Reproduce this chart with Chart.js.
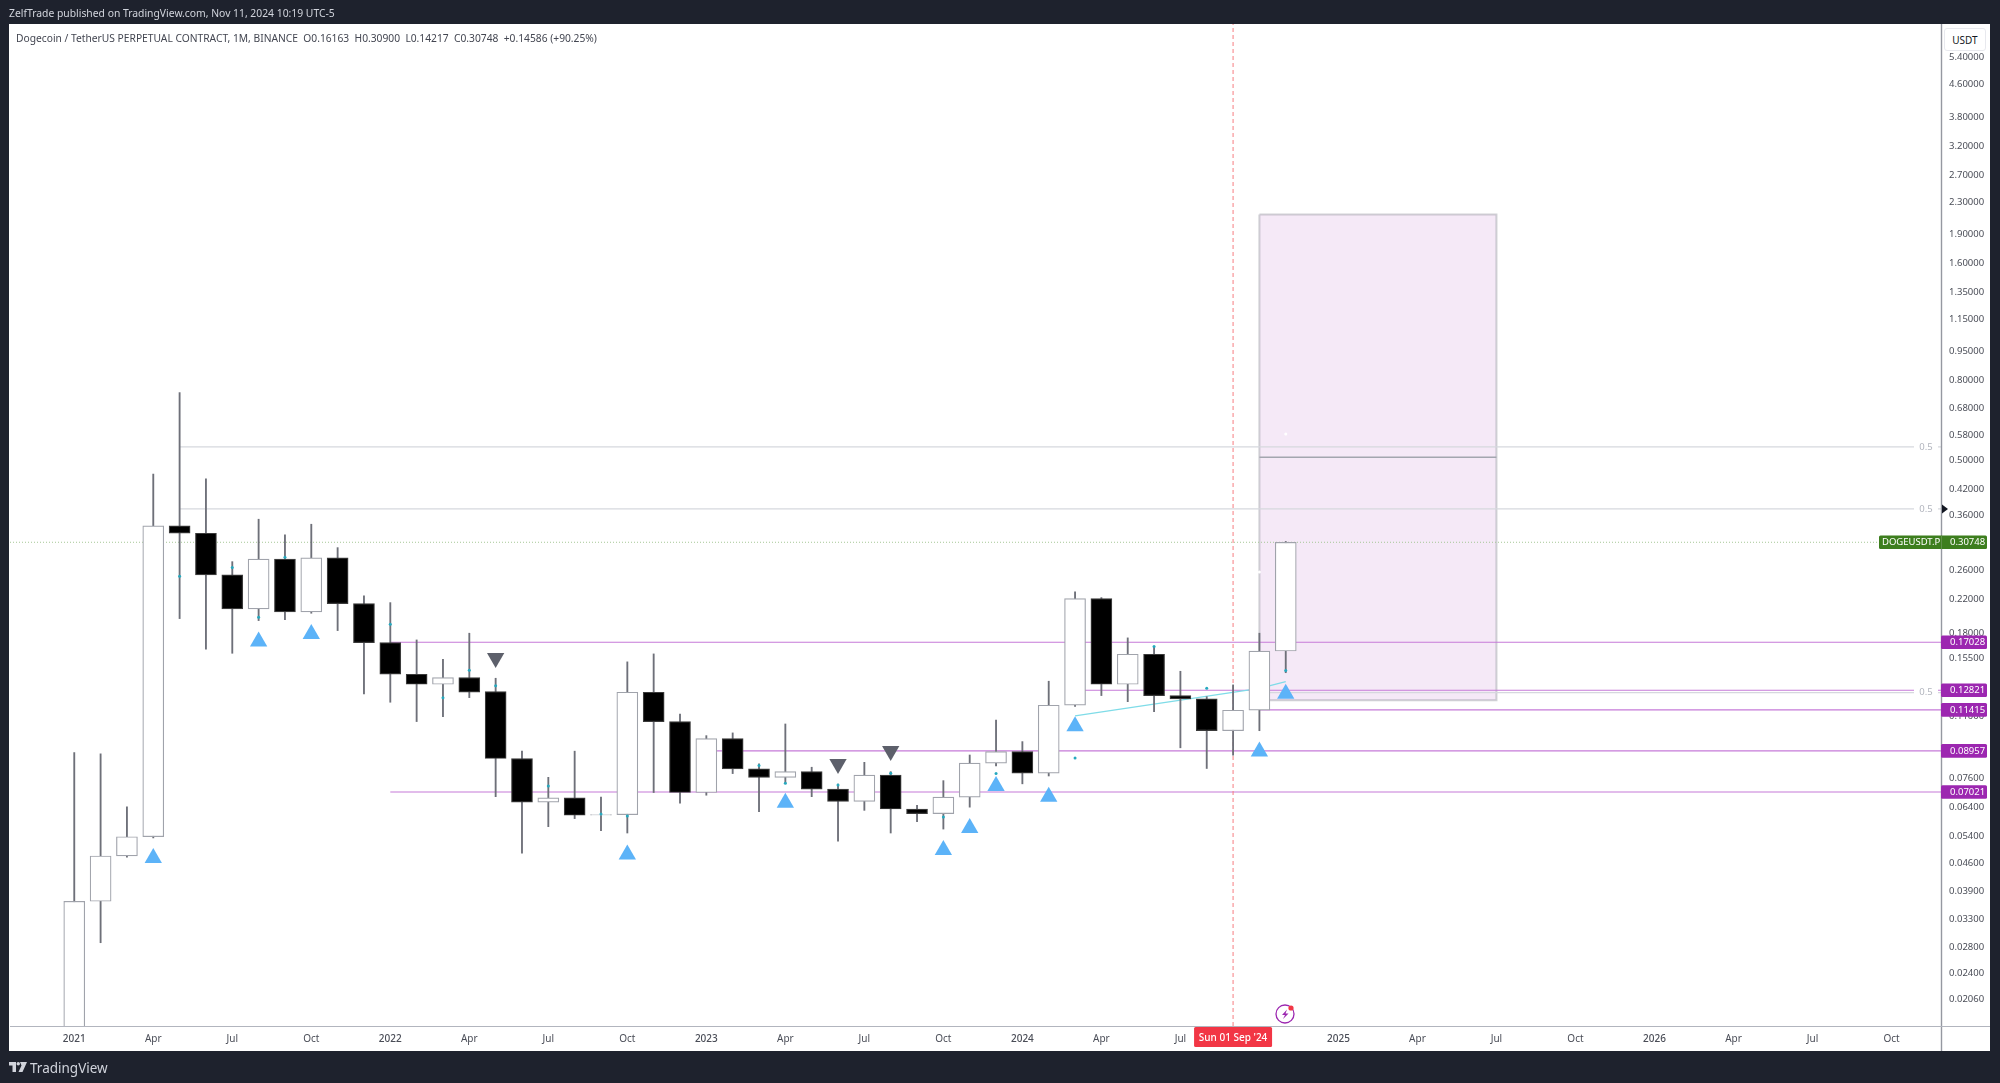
<!DOCTYPE html>
<html>
<head>
<meta charset="utf-8">
<title>DOGEUSDT.P monthly</title>
<script src="https://cdn.jsdelivr.net/npm/chart.js@4/dist/chart.umd.min.js"></script>
<style>
    html, body { margin: 0; padding: 0; background: #1e222d; width: 2000px; height: 1083px; overflow: hidden; }
    #panel { position: absolute; left: 9px; top: 24px; width: 1981px; height: 1027px; background: #fff; }
    #myChart { position: absolute; left: 0; top: 0; }
    .txt { position: absolute; white-space: pre; font-family: "Noto Sans", sans-serif; }
    #published { left: 9px; top: 6px; font-size: 10.35px; line-height: 14px; color: #d1d4dc; }
    #legend { left: 16px; top: 31px; font-size: 10.25px; line-height: 14px; color: #434651; }
    #usdt { left: 1944px; top: 28px; width: 42px; height: 23px; line-height: 23px; text-align: center; font-size: 10px; color: #131722; border: 1px solid #e8e9ee; border-radius: 3px; box-sizing: border-box; background: #fff; }
    #brand { left: 30px; top: 1059px; font-size: 13.5px; line-height: 18px; color: #d1d4dc; }
    #logo { position: absolute; left: 9px; top: 1062px; }
    #bolt { position: absolute; left: 1274px; top: 1003px; }
</style>
</head>
<body>
<div id="panel"></div>
<canvas id="myChart" width="2000" height="1083"></canvas>
<div class="txt" id="published">ZelfTrade published on TradingView.com, Nov 11, 2024 10:19 UTC-5</div>
<div class="txt" id="legend">Dogecoin / TetherUS PERPETUAL CONTRACT, 1M, BINANCE  O0.16163  H0.30900  L0.14217  C0.30748  +0.14586 (+90.25%)</div>
<div class="txt" id="usdt">USDT</div>
<svg id="logo" width="18" height="10" viewBox="0 0 36 20">
    <path d="M0 0h14v20H7V7H0z M22 0h14l-9 20h-8l6-13z" fill="#d1d4dc"/>
    <circle cx="18.5" cy="3.5" r="3.5" fill="#d1d4dc"/>
</svg>
<div class="txt" id="brand">TradingView</div>
<svg id="bolt" width="22" height="22" viewBox="0 0 22 22">
    <circle cx="11" cy="11" r="9" fill="none" stroke="#9c27b0" stroke-width="1.3"/>
    <path d="M13 6.5 L8 12 H11 L9 16 L14.5 10.5 H11.5 Z" fill="#9c27b0"/>
    <circle cx="17" cy="5" r="2.6" fill="#f23645"/>
</svg>
<script>
const months = [
    'Jan 2021', 'Feb 2021', 'Mar 2021', 'Apr 2021', 'May 2021', 'Jun 2021', 'Jul 2021', 'Aug 2021', 'Sep 2021', 'Oct 2021', 'Nov 2021', 'Dec 2021',
    'Jan 2022', 'Feb 2022', 'Mar 2022', 'Apr 2022', 'May 2022', 'Jun 2022', 'Jul 2022', 'Aug 2022', 'Sep 2022', 'Oct 2022', 'Nov 2022', 'Dec 2022',
    'Jan 2023', 'Feb 2023', 'Mar 2023', 'Apr 2023', 'May 2023', 'Jun 2023', 'Jul 2023', 'Aug 2023', 'Sep 2023', 'Oct 2023', 'Nov 2023', 'Dec 2023',
    'Jan 2024', 'Feb 2024', 'Mar 2024', 'Apr 2024', 'May 2024', 'Jun 2024', 'Jul 2024', 'Aug 2024', 'Sep 2024', 'Oct 2024', 'Nov 2024'
];
const opens = [
    0.0047, 0.0368, 0.0481, 0.0539, 0.3387, 0.3244, 0.2535, 0.2074, 0.2782, 0.2037, 0.2803, 0.2139,
    0.1699, 0.1409, 0.1328, 0.1381, 0.1271, 0.0856, 0.0661, 0.0678, 0.0612, 0.0614, 0.1267, 0.1065,
    0.0700, 0.0963, 0.0805, 0.0766, 0.0792, 0.0714, 0.0664, 0.0776, 0.0635, 0.0618, 0.0681, 0.0833,
    0.0892, 0.0785, 0.1173, 0.2204, 0.1328, 0.1586, 0.1242, 0.1218, 0.1009, 0.1139, 0.16163
];
const highs = [
    0.0887, 0.0880, 0.0643, 0.4599, 0.7451, 0.4473, 0.2742, 0.3524, 0.3212, 0.3421, 0.2979, 0.2239,
    0.2152, 0.1726, 0.1540, 0.1796, 0.1376, 0.0894, 0.0766, 0.0894, 0.0681, 0.1516, 0.1589, 0.1114,
    0.0980, 0.0996, 0.0829, 0.1050, 0.0813, 0.0736, 0.0837, 0.0792, 0.0649, 0.0751, 0.0874, 0.1074,
    0.0946, 0.1352, 0.2293, 0.2217, 0.1747, 0.1659, 0.1434, 0.1234, 0.1323, 0.1796, 0.30900
];
const lows = [
    0.0046, 0.0288, 0.0478, 0.0535, 0.1958, 0.1634, 0.1595, 0.1935, 0.1946, 0.2021, 0.1824, 0.1254,
    0.1194, 0.1065, 0.1097, 0.1227, 0.0683, 0.0489, 0.0572, 0.0600, 0.0559, 0.0551, 0.0700, 0.0657,
    0.0689, 0.0783, 0.0625, 0.0740, 0.0683, 0.0525, 0.0630, 0.0551, 0.0589, 0.0564, 0.0642, 0.0819,
    0.0737, 0.0772, 0.1164, 0.1242, 0.1198, 0.1130, 0.0912, 0.0807, 0.0873, 0.1009, 0.14217
];
const closes = [
    0.0368, 0.0481, 0.0539, 0.3387, 0.3244, 0.2535, 0.2074, 0.2782, 0.2037, 0.2803, 0.2139, 0.1699,
    0.1409, 0.1328, 0.1381, 0.1267, 0.0856, 0.0661, 0.0678, 0.0612, 0.0614, 0.1267, 0.1065, 0.0700,
    0.0963, 0.0805, 0.0766, 0.0792, 0.0714, 0.0664, 0.0776, 0.0635, 0.0618, 0.0681, 0.0833, 0.0892,
    0.0785, 0.1173, 0.2204, 0.1328, 0.1586, 0.1242, 0.1218, 0.1009, 0.1139, 0.16163, 0.30748
];

const yTicks = [5.4, 4.6, 3.8, 3.2, 2.7, 2.3, 1.9, 1.6, 1.35, 1.15, 0.95, 0.8, 0.68, 0.58, 0.5, 0.42, 0.36, 0.26, 0.22, 0.18, 0.155, 0.11, 0.076, 0.064, 0.054, 0.046, 0.039, 0.033, 0.028, 0.024, 0.0206];
const xTickIdx = [0, 3, 6, 9, 12, 15, 18, 21, 24, 27, 30, 33, 36, 39, 42, 48, 51, 54, 57, 60, 63, 66, 69];
const xTickLabels = ['2021', 'Apr', 'Jul', 'Oct', '2022', 'Apr', 'Jul', 'Oct', '2023', 'Apr', 'Jul', 'Oct', '2024', 'Apr', 'Jul', '2025', 'Apr', 'Jul', 'Oct', '2026', 'Apr', 'Jul', 'Oct'];

const levelPrices = [0.17028, 0.12821, 0.11415, 0.08957, 0.07021];
const levelStarts = [12, 38, 45, 24, 12];
const fibPrices = [0.5404, 0.3745, 0.1264];
const fibStarts = [4, 4, 45];
const lastPrice = 0.30748;

const upIdx = [3, 7, 9, 21, 27, 33, 34, 35, 37, 38, 45, 46];
const upPrices = [0.04756, 0.1711, 0.1788, 0.04856, 0.06585, 0.04985, 0.05678, 0.07279, 0.0683, 0.1036, 0.08918, 0.1256];
const downIdx = [16, 29, 31];
const downPrices = [0.1552, 0.0829, 0.08953];
const dotIdx = [4, 6, 7, 8, 12, 14, 15, 16, 18, 20, 21, 26, 27, 29, 31, 33, 35, 38, 41, 43, 46];
const dotPrices = [0.2516, 0.2647, 0.1974, 0.2815, 0.1894, 0.1227, 0.1443, 0.1317, 0.0728, 0.0617, 0.06096, 0.0821, 0.0740, 0.0732, 0.0785, 0.0606, 0.0783, 0.0859, 0.1659, 0.1297, 0.144];
const paleDotIdx = [45, 46];
const paleDotPrices = [0.258, 0.5836];
const trendIdx = [38, 45, 46];
const trendPrices = [0.1101, 0.1296, 0.1349];

const boxIdx = [45, 54];
const boxPrices = [2.137, 0.5085, 0.1208];
const crossIdx = 44;

const xMin = -2.44, xMax = 70.88, yMin = 0.0176, yMax = 6.59;
const fontName = '"Noto Sans", sans-serif';

function pts(xs, ys) {
    return xs.map((x, i) => ({ x: x, y: ys[i] }));
}
function hline(startIdx, price, color, width, order, dash) {
    return {
        type: 'line', data: [{ x: startIdx, y: price }, { x: xMax, y: price }],
        borderColor: color, borderWidth: width, borderDash: dash || [], pointRadius: 0, order: order
    };
}

const datasets = [];

// box first, so candles sit on top
datasets.push({
    type: 'line', data: [{ x: boxIdx[0], y: boxPrices[0] }, { x: boxIdx[1], y: boxPrices[0] }],
    borderWidth: 0, pointRadius: 0, fill: { value: boxPrices[2] }, backgroundColor: 'rgba(156,39,176,0.1)', order: 20
});
datasets.push({
    type: 'line',
    data: pts([boxIdx[0], boxIdx[1], boxIdx[1], boxIdx[0], boxIdx[0]], [boxPrices[0], boxPrices[0], boxPrices[2], boxPrices[2], boxPrices[0]]),
    borderColor: 'rgba(120,123,134,0.35)', borderWidth: 2, pointRadius: 0, order: 19
});
datasets.push({
    type: 'line', data: pts(boxIdx, [boxPrices[1], boxPrices[1]]),
    borderColor: '#a3a6af', borderWidth: 1.5, pointRadius: 0, order: 18
});

fibPrices.forEach((p, i) => datasets.push(hline(fibStarts[i], p, '#d6d8de', 1.3, 17)));
levelPrices.forEach((p, i) => datasets.push(hline(levelStarts[i], p, '#c67ad8', 1.1, 16)));
datasets.push(hline(xMin, lastPrice, '#a6c896', 1, 15, [1, 2]));
datasets.push({
    type: 'line', data: [{ x: crossIdx, y: yMin }, { x: crossIdx, y: yMax }],
    borderColor: '#f77c80', borderWidth: 1, borderDash: [4, 3], pointRadius: 0, order: 14
});
datasets.push({
    type: 'line', data: pts(trendIdx, trendPrices),
    borderColor: '#7fdce8', borderWidth: 1.3, pointRadius: 0, order: 13
});

datasets.push({
    type: 'bar', label: 'wick', data: months.map((m, i) => ({ x: i, y: [lows[i], highs[i]] })),
    backgroundColor: '#6e7079', barThickness: 1.2, grouped: false, order: 6
});
datasets.push({
    type: 'bar', label: 'body', data: months.map((m, i) => ({ x: i, y: [opens[i], closes[i]] })),
    backgroundColor: months.map((m, i) => closes[i] >= opens[i] ? '#ffffff' : '#000000'),
    borderColor: months.map((m, i) => closes[i] >= opens[i] ? '#a0a3ab' : '#3a3a3a'),
    borderWidth: 1.2, borderSkipped: false, barThickness: 21, grouped: false, order: 5
});

datasets.push({
    type: 'line', data: pts(paleDotIdx, paleDotPrices), showLine: false,
    pointRadius: 1.5, pointBorderWidth: 0, pointBackgroundColor: '#ffffff', order: 4
});
datasets.push({
    type: 'line', data: pts(dotIdx, dotPrices), showLine: false,
    pointRadius: 1.5, pointBorderWidth: 0, pointBackgroundColor: '#26a9bf', order: 3
});
datasets.push({
    type: 'line', data: pts(upIdx, upPrices), showLine: false, pointStyle: 'triangle',
    pointRadius: 10, pointBorderWidth: 0, pointBackgroundColor: '#5cb3f8', order: 2
});
datasets.push({
    type: 'line', data: pts(downIdx, downPrices), showLine: false, pointStyle: 'triangle', pointRotation: 180,
    pointRadius: 10, pointBorderWidth: 0, pointBackgroundColor: '#5d606b', order: 2
});

function tag(c, x1, x2, py, color) {
    c.fillStyle = color;
    c.beginPath();
    c.roundRect(x1, py - 6.8, x2 - x1, 13.6, 1.5);
    c.fill();
}

// price tags, fib text, crosshair date and frame lines
const overlay = {
    id: 'overlay',
    afterDraw(chart) {
        const c = chart.ctx, x = chart.scales.x, y = chart.scales.y, area = chart.chartArea;
        c.save();
        c.strokeStyle = '#9598a1';
        c.lineWidth = 1.4;
        c.beginPath();
        c.moveTo(area.right + 0.5, area.top);
        c.lineTo(area.right + 0.5, 1051);
        c.stroke();
        c.strokeStyle = '#b2b5be';
        c.lineWidth = 1;
        c.beginPath();
        c.moveTo(area.left, area.bottom + 0.5);
        c.lineTo(1990, area.bottom + 0.5);
        c.stroke();

        c.textBaseline = 'middle';
        c.font = '9.5px ' + fontName;
        c.textAlign = 'center';
        fibPrices.forEach(p => {
            const py = y.getPixelForValue(p);
            c.fillStyle = '#ffffff';
            c.fillRect(1914, py - 4, 24, 8);
            c.fillStyle = '#b2b5be';
            c.fillText('0.5', 1926, py);
        });

        c.textAlign = 'left';
        levelPrices.forEach(p => {
            const py = y.getPixelForValue(p);
            tag(c, area.right, 1987, py, '#9c27b0');
            c.fillStyle = '#ffffff';
            c.fillText(p.toFixed(5), 1950, py);
        });

        const ly = y.getPixelForValue(lastPrice);
        tag(c, 1879, 1987, ly, '#3d7e1e');
        c.fillStyle = '#ffffff';
        c.fillText('DOGEUSDT.P', 1882, ly);
        c.fillText(lastPrice.toFixed(5), 1950, ly);
        c.strokeStyle = '#5f8f48';
        c.beginPath();
        c.moveTo(area.right + 0.5, ly - 6.8);
        c.lineTo(area.right + 0.5, ly + 6.8);
        c.stroke();

        // small arrow on the axis next to the upper fib
        const ay = y.getPixelForValue(fibPrices[1]);
        c.fillStyle = '#131722';
        c.beginPath();
        c.moveTo(area.right + 1, ay - 4.5);
        c.lineTo(area.right + 7, ay);
        c.lineTo(area.right + 1, ay + 4.5);
        c.fill();

        const cx = x.getPixelForValue(crossIdx);
        c.fillStyle = '#f23645';
        c.beginPath();
        c.roundRect(cx - 39, area.bottom + 1, 78, 20, 1.5);
        c.fill();
        c.fillStyle = '#ffffff';
        c.textAlign = 'center';
        c.font = '500 10px ' + fontName;
        c.fillText("Sun 01 Sep '24", cx, area.bottom + 12);
        c.restore();
    }
};

function tickWeight(c) {
    if (!c.tick) return '400';
    return /^\d{4}$/.test(xTickLabels[xTickIdx.indexOf(c.tick.value)]) ? '500' : '400';
}

const ctx = document.getElementById('myChart').getContext('2d');
const myChart = new Chart(ctx, {
    type: 'bar',
    data: { datasets: datasets },
    plugins: [overlay],
    options: {
        responsive: false,
        animation: false,
        devicePixelRatio: 1,
        events: [],
        layout: { padding: { left: 9, top: 24, right: 10, bottom: 32 } },
        plugins: { legend: { display: false }, tooltip: { enabled: false } },
        scales: {
            x: {
                type: 'linear', min: xMin, max: xMax, offset: false,
                grid: { display: false, drawTicks: false },
                border: { display: false },
                afterBuildTicks(scale) { scale.ticks = xTickIdx.map(v => ({ value: v })); },
                afterFit(scale) { scale.height = 25; },
                ticks: {
                    autoSkip: false, maxRotation: 0, padding: 7, color: '#4a4d57',
                    font: c => ({ family: fontName, size: 10, weight: tickWeight(c) }),
                    callback: v => xTickLabels[xTickIdx.indexOf(v)]
                }
            },
            y: {
                type: 'logarithmic', position: 'right', min: yMin, max: yMax,
                grid: { display: false, drawTicks: false },
                border: { display: false },
                afterBuildTicks(scale) { scale.ticks = yTicks.map(v => ({ value: v })); },
                afterFit(scale) { scale.width = 49; },
                ticks: {
                    autoSkip: false, padding: 8, color: '#4a4d57',
                    font: { family: fontName, size: 9.5 },
                    callback: v => v.toFixed(5)
                }
            }
        }
    }
});
</script>
</body>
</html>
